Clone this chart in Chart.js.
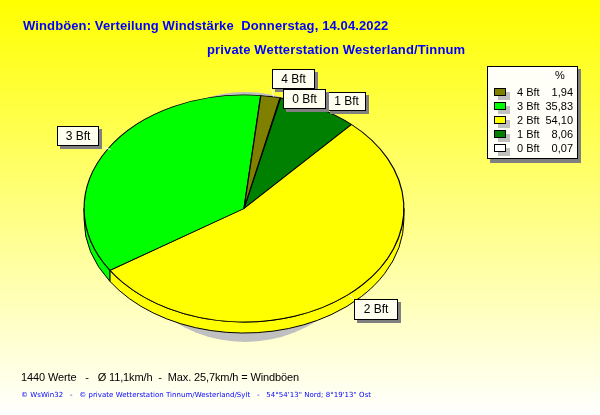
<!DOCTYPE html>
<html><head><meta charset="utf-8">
<style>html,body{margin:0;padding:0;background:#fff}canvas{display:block}</style>
<script src="https://cdn.jsdelivr.net/npm/chart.js@4"></script>
</head><body><canvas id="c" width="600" height="415"></canvas>
<script>
const categories = ['4 Bft','3 Bft','2 Bft','1 Bft','0 Bft'];
const shares = [1.94,35.83,54.10,8.06,0.07];
const shareLabels = ['1,94','35,83','54,10','8,06','0,07'];
const colours = ['#808000','#00FF00','#FFFF00','#008000','#FFFFFF'];
const titleLine1 = 'Windböen: Verteilung Windstärke  Donnerstag, 14.04.2022';
const titleLine2 = 'private Wetterstation Westerland/Tinnum';
const footerLine1 = '1440 Werte   -   Ø 11,1km/h  -  Max. 25,7km/h = Windböen';
const footerLine2 = '© WsWin32   -   © private Wetterstation Tinnum/Westerland/Sylt   -   54°54\'13" Nord; 8°19\'13" Ost';
const calloutNames = ['1 Bft','4 Bft','0 Bft','3 Bft','2 Bft'];

const FONT = '"Liberation Sans", Arial, sans-serif';
const SQUASH = 0.71, DEPTH = 11;
const calloutBoxes = {
  '1 Bft':[327,92,38,18], '4 Bft':[272,69,42,19], '0 Bft':[283,89,42,19],
  '3 Bft':[57,126,41,19], '2 Bft':[354,299,43,20]
};
const leaders = [[103,147,110,149],[349,295,355,300],[271,87,273,96]];

function text(ctx,s,x,y,font,col,align,spacing){
  ctx.font=font;ctx.fillStyle=col;ctx.textAlign=align||'left';ctx.textBaseline='middle';
  ctx.letterSpacing=(spacing||0)+'px';ctx.fillText(s,x,y);ctx.letterSpacing='0px';
}
function squash(ctx,cy){ctx.translate(0,cy);ctx.scale(1,SQUASH);ctx.translate(0,-cy);}

const pie3d = {
  id:'pie3d',
  beforeDraw(chart){
    const {ctx,width,height}=chart;
    const g=ctx.createLinearGradient(0,0,0,height);
    g.addColorStop(0,'#FFFF00');g.addColorStop(1,'#FFFFFF');
    ctx.save();ctx.fillStyle=g;ctx.fillRect(0,0,width,height);ctx.restore();
  },
  beforeDatasetsDraw(chart){
    const ctx=chart.ctx, arcs=chart.getDatasetMeta(0).data;
    const cx=arcs[0].x, cy=arcs[0].y, rx=arcs[0].outerRadius, ry=rx*SQUASH;
    ctx.save();
    ctx.fillStyle='#C0C0C0';
    ctx.beginPath();ctx.ellipse(cx+1,cy+8.5,129,125,0,0,Math.PI*2);ctx.fill();
    ctx.lineWidth=1;ctx.strokeStyle='#000';
    arcs.forEach((a,i)=>{
      let s=a.startAngle,e=a.endAngle;
      while(s>=Math.PI){s-=2*Math.PI;e-=2*Math.PI;}
      const a0=Math.max(s,0),a1=Math.min(e,Math.PI);
      if(a1<=a0)return;
      ctx.beginPath();
      ctx.ellipse(cx,cy,rx,ry,0,a0,a1);
      ctx.ellipse(cx,cy+DEPTH,rx,ry,0,a1,a0,true);
      ctx.closePath();
      ctx.fillStyle=chart.data.datasets[0].backgroundColor[i];
      ctx.fill();ctx.stroke();
    });
    ctx.restore();
    ctx.save();squash(ctx,cy);
  },
  afterDatasetsDraw(chart){
    chart.ctx.restore();
  },
  afterDraw(chart){
    const ctx=chart.ctx;
    ctx.save();
    ctx.strokeStyle='#FFFFFF';ctx.lineWidth=1;
    leaders.forEach(l=>{ctx.beginPath();ctx.moveTo(l[0]+.5,l[1]+.5);ctx.lineTo(l[2]+.5,l[3]+.5);ctx.stroke();});
    calloutNames.forEach(n=>{
      const [x,y,w,h]=calloutBoxes[n];
      ctx.fillStyle='#808080';ctx.fillRect(x+3,y+3,w+1,h+1);
      ctx.fillStyle='#FFFFF0';ctx.fillRect(x,y,w,h);
      ctx.strokeStyle='#000';ctx.lineWidth=1;ctx.strokeRect(x+.5,y+.5,w,h);
      text(ctx,n,x+w/2+.5,y+h/2+1,'12px '+FONT,'#000','center');
    });
    ctx.fillStyle='#808080';ctx.fillRect(490,69,91,94);
    ctx.fillStyle='#FFFFF8';ctx.fillRect(487,66,91,93);
    ctx.strokeStyle='#000';ctx.strokeRect(487.5,66.5,90,92);
    text(ctx,'%',560,76,'11px '+FONT,'#000','center');
    categories.forEach((c,i)=>{
      const y=88+i*14;
      ctx.fillStyle='#C0C0C0';ctx.fillRect(498,y+4,12,8);
      ctx.fillStyle=colours[i];ctx.fillRect(494,y,12,8);
      ctx.strokeStyle='#000';ctx.strokeRect(494.5,y+.5,11,7);
      text(ctx,c,517,y+5,'11px '+FONT,'#000','left');
      text(ctx,shareLabels[i],573,y+5,'11px '+FONT,'#000','right');
    });
    text(ctx,titleLine1,23,26,'bold 13px '+FONT,'#0000FF','left',0.12);
    text(ctx,titleLine2,207,50,'bold 13px '+FONT,'#0000FF','left',0.14);
    text(ctx,footerLine1,21,378,'11px '+FONT,'#000','left',-0.12);
    text(ctx,footerLine2,21,395,'7px "DejaVu Sans"','#0000FF','left',0.03);
    ctx.restore();
  }
};

new Chart(document.getElementById('c'),{
  type:'pie',
  data:{
    labels:[...categories].reverse(),
    datasets:[{
      data:[...shares].reverse(),
      backgroundColor:[...colours].reverse(),
      borderColor:'#000',borderWidth:1.2
    }]
  },
  options:{
    responsive:false,animation:false,
    rotation:13,
    radius:'100%',
    layout:{padding:{left:83.5,right:195.5,top:48,bottom:46}},
    plugins:{legend:{display:false},title:{display:false},tooltip:{enabled:false}}
  },
  plugins:[pie3d]
});
</script></body></html>
